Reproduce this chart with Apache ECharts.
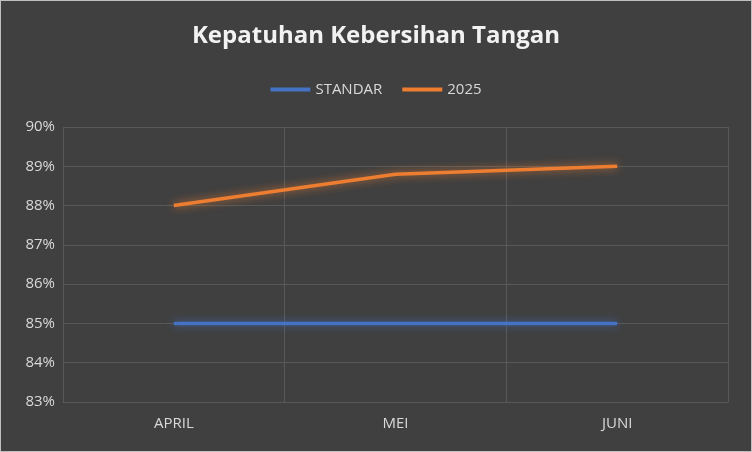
<!DOCTYPE html>
<html><head><meta charset="utf-8">
<script src="https://cdn.jsdelivr.net/npm/echarts@6/dist/echarts.min.js"></script>
<style>html,body{margin:0;padding:0;background:#404040}#c{width:752px;height:452px;box-sizing:border-box;border:1px solid #bfbfbf}</style>
</head><body><div id="c"></div>
<script>
const categories = ['APRIL','MEI','JUNI'];
const standar = [0.85,0.85,0.85];
const y2025 = [0.880,0.888,0.890];
const chart = echarts.init(document.getElementById('c'));
chart.setOption({
  backgroundColor:'#404040',
  title:{text:'Kepatuhan Kebersihan Tangan',left:'center',top:18,textStyle:{color:'#f2f2f2',fontSize:24,fontWeight:'bold',fontFamily:'Open Sans'}},
  legend:{top:76,left:'center',itemWidth:40,itemHeight:4,itemGap:20,icon:'rect',textStyle:{color:'#d9d9d9',fontSize:15,fontFamily:'Open Sans'},data:['STANDAR','2025']},
  grid:{left:62,right:23,top:126,bottom:49},
  xAxis:{type:'category',data:categories,boundaryGap:true,axisTick:{show:false},axisLine:{lineStyle:{color:'#595959'}},
    splitLine:{show:true,lineStyle:{color:'#595959'}},axisLabel:{color:'#d9d9d9',fontSize:15,margin:14,fontFamily:'Open Sans'}},
  yAxis:{type:'value',min:0.83,max:0.90,interval:0.01,axisLine:{show:false},axisTick:{show:false},
    splitLine:{lineStyle:{color:'#595959'}},axisLabel:{color:'#d9d9d9',fontSize:15,fontFamily:'Open Sans',formatter:v=>Math.round(v*100)+'%'}},
  series:[
    {name:'STANDAR',type:'line',data:standar,showSymbol:false,symbol:'none',itemStyle:{color:'#4472c4'},
      lineStyle:{width:3.5,color:'#4472c4',shadowBlur:8,shadowColor:'rgba(68,114,196,0.8)'}},
    {name:'2025',type:'line',data:y2025,showSymbol:false,symbol:'none',itemStyle:{color:'#ed7d31'},
      lineStyle:{width:3.5,color:'#ed7d31',shadowBlur:8,shadowColor:'rgba(237,125,49,0.8)'}}
  ]
});
</script></body></html>
